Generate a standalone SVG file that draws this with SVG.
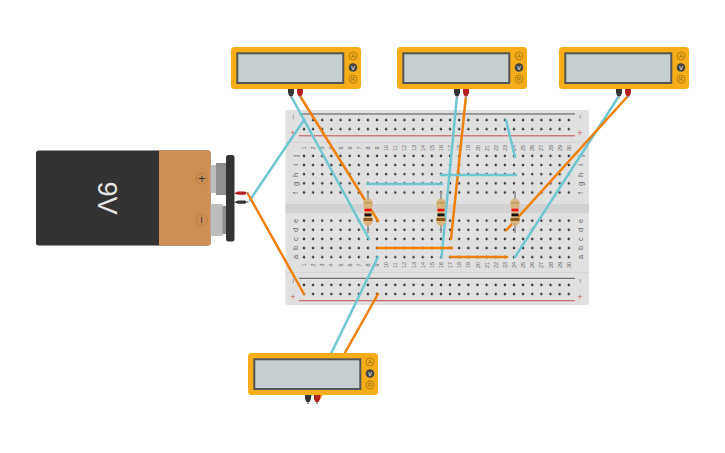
<svg xmlns="http://www.w3.org/2000/svg" width="725" height="453" viewBox="0 0 725 453">
<style>
text{font-family:"Liberation Sans",Arial,sans-serif}
.lb{font-size:5.500px;fill:#666;text-anchor:middle;dominant-baseline:central}
.ll{font-size:7.500px;fill:#666;text-anchor:middle;dominant-baseline:central}
.sg{font-size:9px;text-anchor:middle;dominant-baseline:central}
.w{fill:none;stroke-width:2.500;stroke-linecap:round}
.b{stroke:#6fc6d2}
.o{stroke:#ee8105}
.body{fill:#f5ae19}
.scr{fill:#c5cfd2;stroke:#555;stroke-width:2}
.btn{fill:none;stroke:#a8770f;stroke-width:.9}
.bv{fill:#444}
.bt{font-size:6px;fill:#8a620c;text-anchor:middle;dominant-baseline:central}
.bw{font-size:6px;font-weight:bold;fill:#d8d8d8;text-anchor:middle;dominant-baseline:central}
</style>
<defs>
<pattern id="dots" x="299.44" y="0" width="9.13" height="9.14" patternUnits="userSpaceOnUse">
<circle cx="4.56" cy="4.57" r="1.8" fill="#f4f4f4"/><circle cx="4.56" cy="4.57" r="1.3" fill="#333"/>
</pattern>
<g id="meter">
<rect width="130" height="42" rx="3.500" class="body"/>
<rect x="6.300" y="6.300" width="106" height="29.700" class="scr"/>
<circle cx="122" cy="9" r="4" class="btn"/><text x="122" y="9" class="bt">A</text>
<circle cx="122" cy="20.500" r="4.300" class="bv"/><text x="122" y="20.500" class="bw">V</text>
<circle cx="122" cy="32" r="4" class="btn"/><text x="122" y="32" class="bt">R</text>
</g>
<g id="probes">
<path d="M-3 0H3V4L1.500 7H-1.500L-3 4Z" fill="#333"/>
<path d="M6 0H12V4L10.500 7H7.500L6 4Z" fill="#b3201f"/>
<path d="M-1 7H1V9H-1ZM8 7H10V9H8Z" fill="#999"/>
</g>
<g id="res">
<path d="M-.9 -7H.9V34H-.9Z" fill="#999"/>
<path d="M-2.500 0L-4.600 2.500V7L-3.500 9V18L-4.600 20V23.500L-2 26.500H2L4.600 23.500V20L3.500 18V9L4.600 7V2.500L2.500 0Z" fill="#d9b47e"/>
<rect x="-4" y="3.500" width="8" height=".8" fill="#a58a4e"/>
<rect x="-3.500" y="9.700" width="7" height="2.600" fill="#f01010"/>
<rect x="-3.500" y="14.500" width="7" height="2.800" fill="#111"/>
<rect x="-4.500" y="19" width="9" height="3" fill="#8a5a20"/>
</g>
</defs>

<g id="breadboard">
<rect x="285.500" y="110" width="303.500" height="195" rx="2" fill="#e0e0e0"/>
<rect x="285.500" y="204" width="303.500" height="9" fill="#d2d2d2"/>
<path d="M285.500 142.500H589M285.500 272.500H589" stroke="#d0d0d0" stroke-width=".8"/>
<path d="M299 114H575M299 278.300H575" stroke="#555" stroke-width="1"/>
<path d="M299 135.800H575M299 300.700H575" stroke="#c0504d" stroke-width="1"/>
<rect x="299.440" y="0" width="273.900" height="18.280" fill="url(#dots)" transform="translate(0 115.500)"/>
<rect x="299.440" y="0" width="273.900" height="45.700" fill="url(#dots)" transform="translate(0 151.400)"/>
<rect x="299.440" y="0" width="273.900" height="45.700" fill="url(#dots)" transform="translate(0 216.100)"/>
<rect x="299.440" y="0" width="273.900" height="18.280" fill="url(#dots)" transform="translate(0 280.400)"/>
<text x="293" y="117" class="sg" fill="#888" transform="rotate(-90 293 117)">−</text>
<text x="580" y="117" class="sg" fill="#888" transform="rotate(-90 580 117)">−</text>
<text x="293" y="281" class="sg" fill="#888" transform="rotate(-90 293 281)">−</text>
<text x="580" y="281" class="sg" fill="#888" transform="rotate(-90 580 281)">−</text>
<text x="293" y="133" class="sg" fill="#d0605d">+</text>
<text x="580" y="133" class="sg" fill="#d0605d">+</text>
<text x="293" y="297" class="sg" fill="#d0605d">+</text>
<text x="580" y="297" class="sg" fill="#d0605d">+</text>
<g id="row-labels">
<text class="ll" x="295" y="156" transform="rotate(-90 295 156)">j</text>
<text class="ll" x="295" y="165" transform="rotate(-90 295 165)">i</text>
<text class="ll" x="295" y="175" transform="rotate(-90 295 175)">h</text>
<text class="ll" x="295" y="184" transform="rotate(-90 295 184)">g</text>
<text class="ll" x="295" y="193" transform="rotate(-90 295 193)">f</text>
<text class="ll" x="295" y="221" transform="rotate(-90 295 221)">e</text>
<text class="ll" x="295" y="230" transform="rotate(-90 295 230)">d</text>
<text class="ll" x="295" y="239" transform="rotate(-90 295 239)">c</text>
<text class="ll" x="295" y="248" transform="rotate(-90 295 248)">b</text>
<text class="ll" x="295" y="257" transform="rotate(-90 295 257)">a</text>
<text class="ll" x="580" y="156" transform="rotate(-90 580 156)">j</text>
<text class="ll" x="580" y="165" transform="rotate(-90 580 165)">i</text>
<text class="ll" x="580" y="175" transform="rotate(-90 580 175)">h</text>
<text class="ll" x="580" y="184" transform="rotate(-90 580 184)">g</text>
<text class="ll" x="580" y="193" transform="rotate(-90 580 193)">f</text>
<text class="ll" x="580" y="221" transform="rotate(-90 580 221)">e</text>
<text class="ll" x="580" y="230" transform="rotate(-90 580 230)">d</text>
<text class="ll" x="580" y="239" transform="rotate(-90 580 239)">c</text>
<text class="ll" x="580" y="248" transform="rotate(-90 580 248)">b</text>
<text class="ll" x="580" y="257" transform="rotate(-90 580 257)">a</text>
</g>
<g id="col-labels-top">
<text class="lb" x="304" y="148" transform="rotate(-90 304 148)">1</text>
<text class="lb" x="313.100" y="148" transform="rotate(-90 313.100 148)">2</text>
<text class="lb" x="322.300" y="148" transform="rotate(-90 322.300 148)">3</text>
<text class="lb" x="331.400" y="148" transform="rotate(-90 331.400 148)">4</text>
<text class="lb" x="340.500" y="148" transform="rotate(-90 340.500 148)">5</text>
<text class="lb" x="349.700" y="148" transform="rotate(-90 349.700 148)">6</text>
<text class="lb" x="358.800" y="148" transform="rotate(-90 358.800 148)">7</text>
<text class="lb" x="367.900" y="148" transform="rotate(-90 367.900 148)">8</text>
<text class="lb" x="377" y="148" transform="rotate(-90 377 148)">9</text>
<text class="lb" x="386.200" y="148" transform="rotate(-90 386.200 148)">10</text>
<text class="lb" x="395.300" y="148" transform="rotate(-90 395.300 148)">11</text>
<text class="lb" x="404.400" y="148" transform="rotate(-90 404.400 148)">12</text>
<text class="lb" x="413.600" y="148" transform="rotate(-90 413.600 148)">13</text>
<text class="lb" x="422.700" y="148" transform="rotate(-90 422.700 148)">14</text>
<text class="lb" x="431.800" y="148" transform="rotate(-90 431.800 148)">15</text>
<text class="lb" x="441" y="148" transform="rotate(-90 441 148)">16</text>
<text class="lb" x="450.100" y="148" transform="rotate(-90 450.100 148)">17</text>
<text class="lb" x="459.200" y="148" transform="rotate(-90 459.200 148)">18</text>
<text class="lb" x="468.300" y="148" transform="rotate(-90 468.300 148)">19</text>
<text class="lb" x="477.500" y="148" transform="rotate(-90 477.500 148)">20</text>
<text class="lb" x="486.600" y="148" transform="rotate(-90 486.600 148)">21</text>
<text class="lb" x="495.700" y="148" transform="rotate(-90 495.700 148)">22</text>
<text class="lb" x="504.900" y="148" transform="rotate(-90 504.900 148)">23</text>
<text class="lb" x="514" y="148" transform="rotate(-90 514 148)">24</text>
<text class="lb" x="523.100" y="148" transform="rotate(-90 523.100 148)">25</text>
<text class="lb" x="532.300" y="148" transform="rotate(-90 532.300 148)">26</text>
<text class="lb" x="541.400" y="148" transform="rotate(-90 541.400 148)">27</text>
<text class="lb" x="550.500" y="148" transform="rotate(-90 550.500 148)">28</text>
<text class="lb" x="559.600" y="148" transform="rotate(-90 559.600 148)">29</text>
<text class="lb" x="568.800" y="148" transform="rotate(-90 568.800 148)">30</text>
</g>
<g id="col-labels-bottom">
<text class="lb" x="304" y="265" transform="rotate(-90 304 265)">1</text>
<text class="lb" x="313.100" y="265" transform="rotate(-90 313.100 265)">2</text>
<text class="lb" x="322.300" y="265" transform="rotate(-90 322.300 265)">3</text>
<text class="lb" x="331.400" y="265" transform="rotate(-90 331.400 265)">4</text>
<text class="lb" x="340.500" y="265" transform="rotate(-90 340.500 265)">5</text>
<text class="lb" x="349.700" y="265" transform="rotate(-90 349.700 265)">6</text>
<text class="lb" x="358.800" y="265" transform="rotate(-90 358.800 265)">7</text>
<text class="lb" x="367.900" y="265" transform="rotate(-90 367.900 265)">8</text>
<text class="lb" x="377" y="265" transform="rotate(-90 377 265)">9</text>
<text class="lb" x="386.200" y="265" transform="rotate(-90 386.200 265)">10</text>
<text class="lb" x="395.300" y="265" transform="rotate(-90 395.300 265)">11</text>
<text class="lb" x="404.400" y="265" transform="rotate(-90 404.400 265)">12</text>
<text class="lb" x="413.600" y="265" transform="rotate(-90 413.600 265)">13</text>
<text class="lb" x="422.700" y="265" transform="rotate(-90 422.700 265)">14</text>
<text class="lb" x="431.800" y="265" transform="rotate(-90 431.800 265)">15</text>
<text class="lb" x="441" y="265" transform="rotate(-90 441 265)">16</text>
<text class="lb" x="450.100" y="265" transform="rotate(-90 450.100 265)">17</text>
<text class="lb" x="459.200" y="265" transform="rotate(-90 459.200 265)">18</text>
<text class="lb" x="468.300" y="265" transform="rotate(-90 468.300 265)">19</text>
<text class="lb" x="477.500" y="265" transform="rotate(-90 477.500 265)">20</text>
<text class="lb" x="486.600" y="265" transform="rotate(-90 486.600 265)">21</text>
<text class="lb" x="495.700" y="265" transform="rotate(-90 495.700 265)">22</text>
<text class="lb" x="504.900" y="265" transform="rotate(-90 504.900 265)">23</text>
<text class="lb" x="514" y="265" transform="rotate(-90 514 265)">24</text>
<text class="lb" x="523.100" y="265" transform="rotate(-90 523.100 265)">25</text>
<text class="lb" x="532.300" y="265" transform="rotate(-90 532.300 265)">26</text>
<text class="lb" x="541.400" y="265" transform="rotate(-90 541.400 265)">27</text>
<text class="lb" x="550.500" y="265" transform="rotate(-90 550.500 265)">28</text>
<text class="lb" x="559.600" y="265" transform="rotate(-90 559.600 265)">29</text>
<text class="lb" x="568.800" y="265" transform="rotate(-90 568.800 265)">30</text>
</g>
</g>

<g id="battery">
<rect x="36" y="150.500" width="174.500" height="95" rx="2.500" fill="#333"/>
<path d="M159 150.500H208A2.500 2.500 0 0 1 210.500 153V243A2.500 2.500 0 0 1 208 245.500H159Z" fill="#d08f52"/>
<rect x="210.500" y="165" width="6" height="28" fill="#bdbdbd"/>
<rect x="216" y="163" width="11" height="32" fill="#8f8f8f"/>
<rect x="210.500" y="204" width="12.500" height="32" fill="#bdbdbd"/>
<rect x="222.500" y="206" width="4.500" height="28" fill="#8f8f8f"/>
<rect x="226" y="155" width="8.500" height="86.500" rx="2.500" fill="#333"/>
<circle cx="201.700" cy="178.700" r="5.500" fill="none" stroke="#b5763f" stroke-width=".8"/>
<circle cx="201.700" cy="220" r="5.500" fill="none" stroke="#b5763f" stroke-width=".8"/>
<text x="201.700" y="178.700" font-size="13" fill="#333" text-anchor="middle" dominant-baseline="central">+</text>
<text x="201.700" y="220" font-size="13" fill="#333" text-anchor="middle" dominant-baseline="central" transform="rotate(90 201.700 220)">−</text>
<text x="107" y="198" font-size="27" fill="#e6e6e6" text-anchor="middle" dominant-baseline="central" transform="rotate(90 107 198)">9V</text>
<path d="M234 193.300L238 191.500H245L247 193L245 194.800H238Z" fill="#b3201f"/>
<path d="M234 202.300L238 200.500H245L247 202L245 203.800H238Z" fill="#333"/>
<path d="M246.500 192H248.500V194H246.500ZM246.500 201H248.500V203H246.500Z" fill="#999"/>
</g>

<g id="connectors">
<path class="w b" d="M250 200L304 120"/>
<path class="w o" d="M248 194L304 294"/>
<path class="w b" d="M291 96L369 239"/>
<path class="w o" d="M300 96L378 221"/>
<path class="w b" d="M457 96L441.500 257.500"/>
<path class="w o" d="M466 96L451 239"/>
<path class="w b" d="M619 96L515 257"/>
<path class="w o" d="M628 96L506 230.500"/>
<path class="w b" d="M367.500 184H442"/>
<path class="w b" d="M441 175H516"/>
<path class="w b" d="M506 120L515 157"/>
<path class="w o" d="M377.500 248H452"/>
<path class="w o" d="M450.500 257H507"/>
<path class="w b" d="M378 257L309 399"/>
<path class="w o" d="M378 294L319 399"/>
</g>

<g id="resistor-1"><use href="#res" x="368" y="199"/></g>
<g id="resistor-2"><use href="#res" x="441" y="199"/></g>
<g id="resistor-3"><use href="#res" x="515" y="199"/></g>

<g id="meter-1"><use href="#meter" x="231" y="47"/><use href="#probes" x="291" y="89"/></g>
<g id="meter-2"><use href="#meter" x="397" y="47"/><use href="#probes" x="457" y="89"/></g>
<g id="meter-3"><use href="#meter" x="559" y="47"/><use href="#probes" x="619" y="89"/></g>
<g id="meter-4"><use href="#meter" x="248" y="353"/><use href="#probes" x="308" y="395"/></g>
</svg>
